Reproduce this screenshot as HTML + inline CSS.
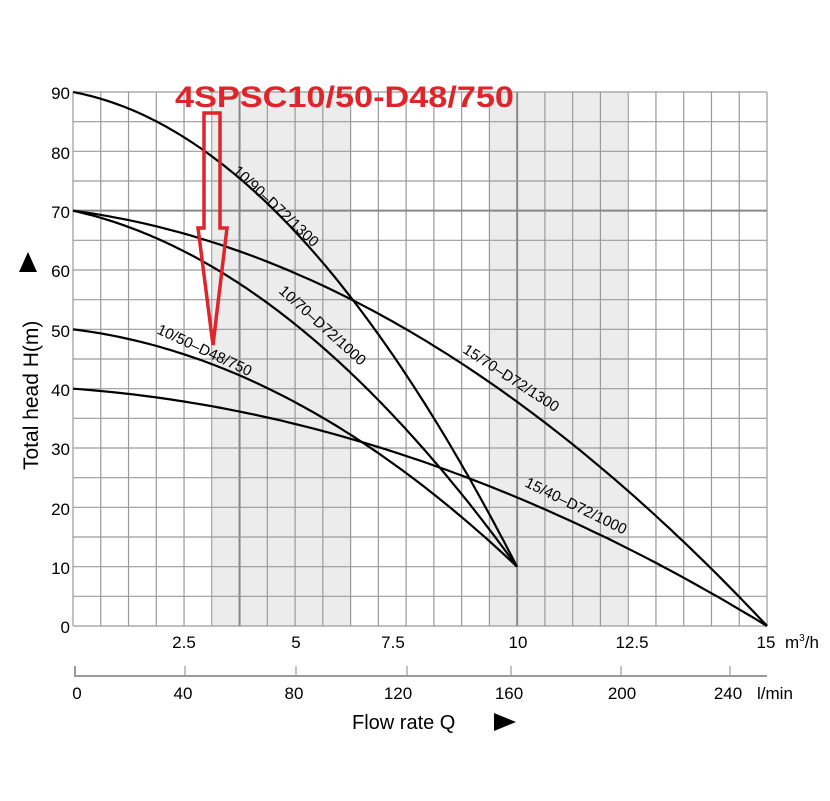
<!DOCTYPE html>
<html><head><meta charset="utf-8"><style>
html,body{margin:0;padding:0;background:#fff;}
svg{display:block;font-family:"Liberation Sans",Arial,sans-serif;}
</style></head><body>
<svg id="s" width="830" height="801" viewBox="0 0 830 801" xmlns="http://www.w3.org/2000/svg">
<rect width="830" height="801" fill="#fff"/>
<rect x="213" y="92" width="137" height="534" fill="#ececec"/>
<rect x="489" y="92" width="138" height="534" fill="#ececec"/>
<g id="grid" stroke="#9a9a9a" stroke-width="1.2"></g>
<g id="curves" fill="none" stroke="#000" stroke-width="2.2"></g>
<g font-size="15" fill="#000">
<text transform="translate(232,172) rotate(43)">10/90–D72/1300</text>
<text transform="translate(278,292) rotate(42)">10/70–D72/1000</text>
<text transform="translate(156,333) rotate(25)">10/50–D48/750</text>
<text transform="translate(462,352) rotate(33)">15/70–D72/1300</text>
<text transform="translate(524,486) rotate(26)">15/40–D72/1000</text>
</g>
<g font-size="17" fill="#000" text-anchor="end">
<text x="70" y="99">90</text><text x="70" y="159">80</text><text x="70" y="218">70</text>
<text x="70" y="277">60</text><text x="70" y="337">50</text><text x="70" y="396">40</text>
<text x="70" y="455">30</text><text x="70" y="515">20</text><text x="70" y="574">10</text>
<text x="70" y="633">0</text>
</g>
<g font-size="17" fill="#000" text-anchor="middle">
<text x="184" y="648">2.5</text><text x="296" y="648">5</text><text x="393" y="648">7.5</text>
<text x="518" y="648">10</text><text x="632" y="648">12.5</text><text x="766" y="648">15</text>
<text x="77" y="699">0</text><text x="183" y="699">40</text><text x="294" y="699">80</text>
<text x="398" y="699">120</text><text x="509" y="699">160</text><text x="622" y="699">200</text><text x="728" y="699">240</text>
</g>
<text x="785" y="648" font-size="17">m<tspan font-size="10" dy="-7">3</tspan><tspan dy="7">/h</tspan></text>
<text x="757" y="699" font-size="17">l/min</text>
<path d="M75,666 V676 H767" fill="none" stroke="#999" stroke-width="2"/>
<g stroke="#999" stroke-width="1.2"><line x1="185" y1="666" x2="185" y2="676"/><line x1="296" y1="666" x2="296" y2="676"/><line x1="407" y1="666" x2="407" y2="676"/><line x1="511" y1="666" x2="511" y2="676"/><line x1="621" y1="666" x2="621" y2="676"/><line x1="730" y1="666" x2="730" y2="676"/></g>
<text x="352" y="729" font-size="20">Flow rate Q</text>
<path d="M494,713 L516,722 L494,731 Z" fill="#000"/>
<text transform="translate(38,470) rotate(-90)" font-size="21">Total head H(m)</text>
<path d="M19,272 L28,252 L37,272 Z" fill="#000"/>
<text x="175" y="107" font-size="30" font-weight="bold" fill="#e0242b" textLength="339" lengthAdjust="spacingAndGlyphs">4SPSC10/50-D48/750</text>
<path d="M204,113 H220 V228 H227 L213,345 L198,228 H204 Z" fill="none" stroke="#e0242b" stroke-width="3.5"/>
</svg>
<script>
var NS="http://www.w3.org/2000/svg";
var g=document.getElementById("grid");
function ln(x1,y1,x2,y2,w,c){var l=document.createElementNS(NS,"line");l.setAttribute("x1",x1);l.setAttribute("y1",y1);l.setAttribute("x2",x2);l.setAttribute("y2",y2);if(w)l.setAttribute("stroke-width",w);if(c)l.setAttribute("stroke",c);g.appendChild(l);}
for(var i=0;i<=25;i++){var x=73+i*(767-73)/25;var heavy=(i==6||i==16);ln(x,92,x,626,heavy?2:1.2,heavy?"#888":null);}
for(var j=0;j<=18;j++){var y=626-j*(534/18);var heavy=(j==14);ln(73,y,767,y,heavy?2:1.2,heavy?"#888":null);}
var c=document.getElementById("curves");
function Y(h){return 626-h*5.933;}
var curves=[[90,1.4,0.66,10,44.4],[70,1.65,0.435,10,44.4],[50,0.91,0.309,10,44.4],[70,1.03,0.2424,15,46.27],[40,0.567,0.14,15,46.27]];
curves.forEach(function(k){var d="";for(var n=0;n<=100;n++){var q=k[3]*n/100;var h=k[0]-k[1]*q-k[2]*q*q;d+=(n?"L":"M")+(73+q*k[4]).toFixed(1)+","+Y(h).toFixed(1);}var p=document.createElementNS(NS,"path");p.setAttribute("d",d);c.appendChild(p);});
</script>
</body></html>
